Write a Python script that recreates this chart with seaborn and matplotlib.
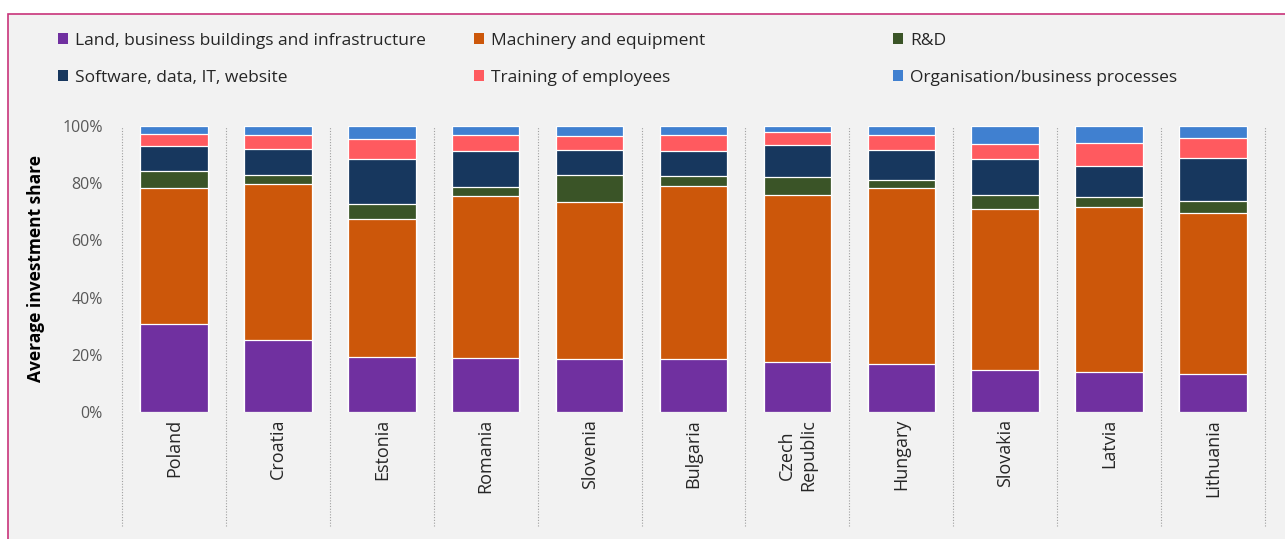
import pandas as pd
import matplotlib.pyplot as plt
import seaborn as sns
from matplotlib.patches import Patch, Rectangle

countries = ["Poland", "Croatia", "Estonia", "Romania", "Slovenia", "Bulgaria",
             "Czech\nRepublic", "Hungary", "Slovakia", "Latvia", "Lithuania"]

land = [30.8, 25.2, 19.1, 18.8, 18.5, 18.4, 17.4, 16.8, 14.7, 14.0, 13.3]
machinery = [47.4, 54.4, 48.4, 56.7, 54.8, 60.6, 58.5, 61.5, 56.3, 57.7, 56.3]
rnd = [5.9, 3.2, 5.2, 3.2, 9.5, 3.4, 6.4, 2.9, 5.0, 3.6, 4.3]
software = [8.8, 9.2, 15.6, 12.7, 8.8, 8.7, 11.1, 10.3, 12.6, 10.7, 15.0]
training = [4.2, 5.0, 7.0, 5.3, 4.9, 5.8, 4.6, 5.4, 5.2, 8.2, 6.8]
organisation = [2.9, 3.0, 4.7, 3.3, 3.5, 3.1, 2.0, 3.1, 6.2, 5.8, 4.3]

series_names = ["Land, business buildings and infrastructure", "Machinery and equipment", "R&D",
                "Software, data, IT, website", "Training of employees", "Organisation/business processes"]
colors = ["#7030A0", "#CC570A", "#3A5427", "#17375E", "#FF5A5F", "#4080D0"]

df = pd.DataFrame({"country": countries, "s0": land, "s1": machinery, "s2": rnd,
                   "s3": software, "s4": training, "s5": organisation})
cols = ["s0", "s1", "s2", "s3", "s4", "s5"]
# cumulative tops, each row scaled to 100%
tot = df[cols].sum(axis=1)
cum = df[cols].cumsum(axis=1).div(tot, axis=0) * 100

sns.set_style("white")
plt.rcParams['font.family'] = ['Open Sans', 'DejaVu Sans']
bg = "#F2F2F2"

fig = plt.figure(figsize=(12.85, 5.39), dpi=100, facecolor="white")
fig.patches.append(Rectangle((8 / 1285, -0.05), 1.2, (539 - 14) / 539 + 0.05,
                             transform=fig.transFigure, facecolor=bg,
                             edgecolor="#C8347A", linewidth=1.2, zorder=-10))
ax = fig.add_axes([122 / 1285, (539 - 412) / 539, (1265 - 122) / 1285, 286 / 539])
ax.set_facecolor(bg)

# draw from the top layer down so each shorter bar covers the one below
for i in range(5, -1, -1):
    plot_df = pd.DataFrame({"country": countries, "v": cum[cols[i]].values})
    sns.barplot(data=plot_df, x="country", y="v", order=countries, color=colors[i],
                width=0.65, edgecolor="white", linewidth=0.9, saturation=1, ax=ax)

ax.set_ylim(0, 100)
ax.set_xlim(-0.5, len(countries) - 0.5)
ax.set_yticks([0, 20, 40, 60, 80, 100])
ax.set_yticklabels([f"{t}%" for t in [0, 20, 40, 60, 80, 100]], color="#595959", fontsize=11.5)
ax.set_xticks(range(len(countries)))
ax.set_xticklabels(countries, rotation=90, va="top", ha="center", multialignment="center",
                   color="#262626", fontsize=13)
ax.tick_params(axis="both", length=0)
ax.tick_params(axis="x", pad=5)
ax.tick_params(axis="y", pad=14)
ax.set_xlabel("")
ax.set_ylabel("Average investment share", fontsize=12.5, fontweight="bold", color="#000000", labelpad=12)
for s in ax.spines.values():
    s.set_visible(False)

for k in range(len(countries) + 1):
    ax.axvline(k - 0.5, ymin=-0.40, ymax=1, clip_on=False, color="#A0A0A0",
               linestyle=(0, (1, 1.5)), linewidth=0.8, zorder=0)

# legend: three columns placed by hand
col_x = [58, 474, 893]
for c in range(3):
    idx = [c, c + 3]
    handles = [Patch(facecolor=colors[j], edgecolor="none") for j in idx]
    fig.legend(handles, [series_names[j] for j in idx], loc="upper left",
               bbox_to_anchor=(col_x[c] / 1285, 1 - 33 / 539), frameon=False,
               fontsize=12.5, handlelength=0.6, handleheight=0.6, handletextpad=0.4,
               borderpad=0, borderaxespad=0, labelspacing=1.2, labelcolor="#262626")

fig.savefig("out.png", dpi=100, facecolor=fig.get_facecolor())
